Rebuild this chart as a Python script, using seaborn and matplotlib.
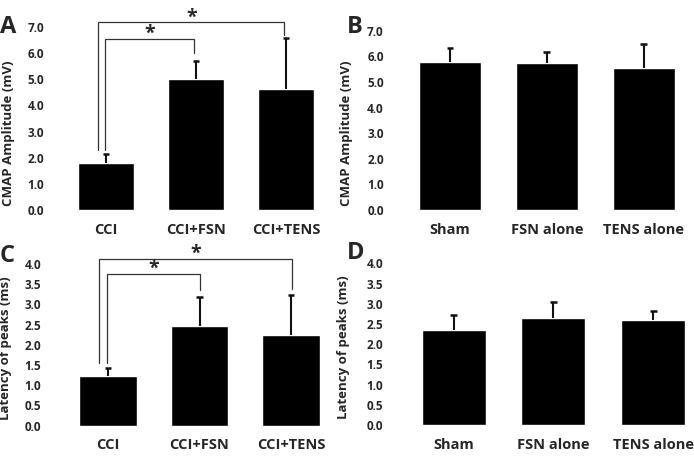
import pandas as pd
import matplotlib
matplotlib.use("Agg")
import matplotlib.pyplot as plt
import seaborn as sns

# Data (mean and upper SD)
groups_cci = ["CCI", "CCI+FSN", "CCI+TENS"]
groups_ctrl = ["Sham", "FSN alone", "TENS alone"]

amp_cci = [1.80, 5.02, 4.63]
amp_cci_sd = [0.35, 0.67, 1.96]
amp_ctrl = [5.79, 5.72, 5.56]
amp_ctrl_sd = [0.55, 0.44, 0.92]

lat_cci = [1.22, 2.46, 2.25]
lat_cci_sd = [0.21, 0.72, 0.99]
lat_ctrl = [2.35, 2.64, 2.60]
lat_ctrl_sd = [0.37, 0.41, 0.22]

amp_ticks = [0, 1, 2, 3, 4, 5, 6, 7]
lat_ticks = [0, 0.5, 1.0, 1.5, 2.0, 2.5, 3.0, 3.5, 4.0]

sns.set_style("white")
plt.rcParams["font.family"] = ["Open Sans", "DejaVu Sans"]
plt.rcParams["font.weight"] = "bold"

W, H = 694, 461
fig = plt.figure(figsize=(W / 100, H / 100), dpi=100)


def px_axes(left, right, top, bottom):
    return fig.add_axes([left / W, 1 - bottom / H, (right - left) / W, (bottom - top) / H])


def panel(ax, names, means, sds, ticks, ymax, ylabel, width, xlim, ypad, lab_xy):
    df = pd.DataFrame({"group": names, "value": means})
    sns.barplot(data=df, x="group", y="value", color="black", width=width,
                errorbar=None, ax=ax, saturation=1)
    # upper-only error bars
    xs = list(range(len(means)))
    tops = [m + s for m, s in zip(means, sds)]
    ax.vlines(xs, means, tops, color="#111111", lw=1.5)
    ax.hlines(tops, [x - 0.035 for x in xs], [x + 0.035 for x in xs],
              color="#111111", lw=1.8)
    ax.set_ylim(0, ymax)
    ax.set_xlim(*xlim)
    ax.set_yticks(ticks)
    ax.set_yticklabels([f"{t:.1f}" for t in ticks], fontsize=8.5, fontweight="bold")
    ax.tick_params(axis="y", length=0, pad=ypad)
    ax.tick_params(axis="x", length=0, pad=9)
    for lab in ax.get_xticklabels():
        lab.set_fontsize(10.5)
        lab.set_fontweight("bold")
    ax.set_xlabel("")
    ax.set_ylabel(ylabel, fontsize=9.5, fontweight="bold")
    ax.yaxis.set_label_coords(*lab_xy)
    sns.despine(ax=ax, left=True, bottom=True)


def bracket(ax, x1, x2, y, y1, y2, star_y):
    ax.plot([x1, x1, x2, x2], [y1, y, y, y2], color="#333333", lw=0.9,
            clip_on=False, solid_joinstyle="miter")
    ax.text((x1 + x2) / 2, star_y, "*", ha="center", va="center",
            fontsize=14, fontweight="bold", clip_on=False)


axA = px_axes(61, 331, 27, 210)
panel(axA, groups_cci, amp_cci, amp_cci_sd, amp_ticks, 7.0,
      "CMAP Amplitude (mV)", 0.63, (-0.5, 2.5), 12, (-0.17, 0.42))
bracket(axA, -0.085, 1.98, 7.19, 2.29, 6.68, 7.36)
bracket(axA, -0.01, 0.98, 6.55, 2.29, 5.99, 6.74)

axB = px_axes(401.7, 692, 30.7, 210)
panel(axB, groups_ctrl, amp_ctrl, amp_ctrl_sd, amp_ticks, 7.0,
      "CMAP Amplitude (mV)", 0.64, (-0.5, 2.5), 13, (-0.168, 0.427))

axC = px_axes(62, 337, 264, 425.7)
panel(axC, groups_cci, lat_cci, lat_cci_sd, lat_ticks, 4.0,
      "Latency of peaks (ms)", 0.63, (-0.5, 2.5), 15, (-0.18, 0.48))
bracket(axC, -0.096, 2.01, 4.13, 1.54, 3.38, 4.24)
bracket(axC, -0.012, 1.01, 3.75, 1.54, 3.36, 3.87)

axD = px_axes(403.8, 693, 263.3, 425)
panel(axD, groups_ctrl, lat_ctrl, lat_ctrl_sd, lat_ticks, 4.0,
      "Latency of peaks (ms)", 0.64, (-0.5, 2.4), 15, (-0.186, 0.48))

for letter, x, y in [("A", 0, 27), ("B", 347, 27), ("C", 0, 256), ("D", 347, 253)]:
    fig.text(x / W, 1 - y / H, letter, fontsize=17, fontweight="bold",
             ha="left", va="center")

fig.savefig("out.png", dpi=100)
